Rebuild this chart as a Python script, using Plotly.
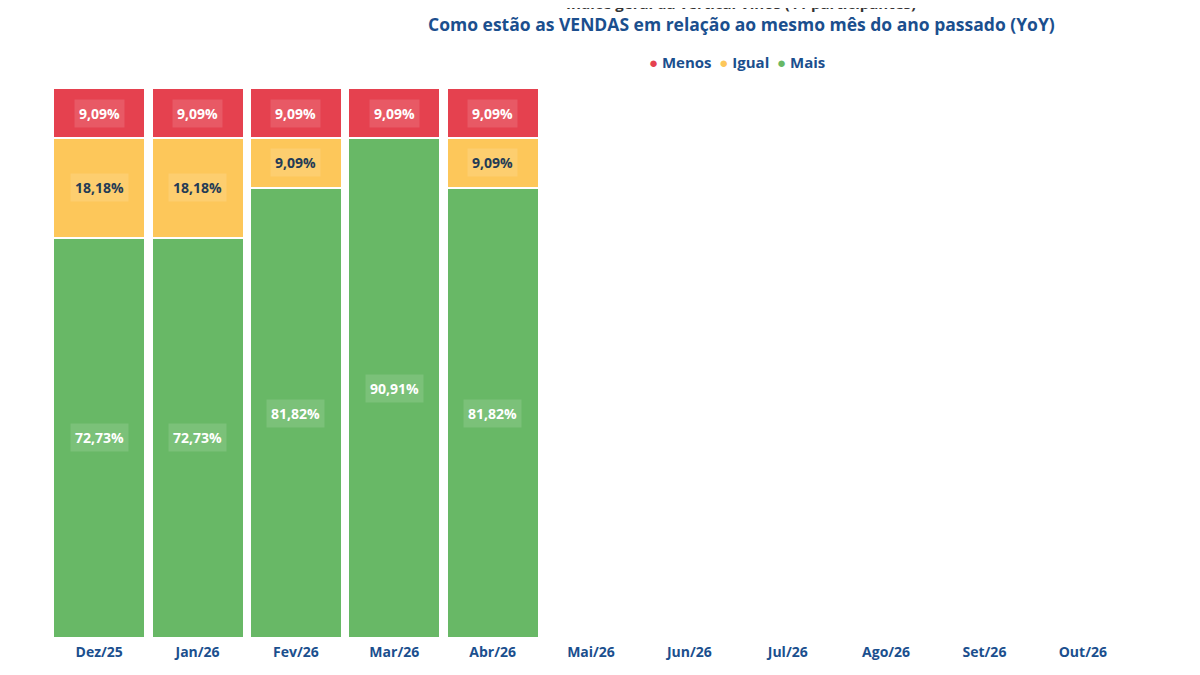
import plotly.graph_objects as go

meses = ["Dez/25", "Jan/26", "Fev/26", "Mar/26", "Abr/26", "Mai/26",
         "Jun/26", "Jul/26", "Ago/26", "Set/26", "Out/26"]
menos = [9.09, 9.09, 9.09, 9.09, 9.09]
igual = [18.18, 18.18, 9.09, 0, 9.09]
mais = [72.73, 72.73, 81.82, 90.91, 81.82]

vermelho = "#E5414F"
amarelo = "#FDC75A"
verde = "#68B866"
azul = "#1B4F8E"
fonte = "Open Sans"

fig = go.Figure()

# empilhado de baixo pra cima: Mais, Igual, Menos
series = [("Mais", mais, verde, "white"),
          ("Igual", igual, amarelo, "#243B55"),
          ("Menos", menos, vermelho, "white")]

base = [0] * len(mais)
for nome, vals, cor, cor_txt in series:
    fig.add_trace(go.Bar(x=meses[:len(vals)], y=vals, name=nome,
                         marker=dict(color=cor, line=dict(color="white", width=2)),
                         showlegend=False, hoverinfo="x+y+name"))
    for i, v in enumerate(vals):
        if v > 0:
            fig.add_annotation(x=meses[i], y=base[i] + v / 2,
                               text="<b>%s%%</b>" % f"{v:.2f}".replace(".", ","),
                               showarrow=False, font=dict(family=fonte, size=14, color=cor_txt),
                               bgcolor="rgba(255,255,255,0.13)", borderpad=4)
        base[i] += v

# legenda compacta com bolinhas
legenda = "  ".join("<span style='color:%s'>●</span> %s" % (c, n)
                    for n, c in [("Menos", vermelho), ("Igual", amarelo), ("Mais", verde)])
fig.add_annotation(xref="paper", yref="paper", x=0.5, y=1.0, yanchor="bottom", xanchor="center",
                   text="<b>%s</b>" % legenda, showarrow=False,
                   font=dict(family=fonte, size=15, color=azul), xshift=146, yshift=14)

fig.add_annotation(xref="paper", yref="paper", x=0.5, y=1.0, yanchor="middle", xanchor="center",
                   text="<b>Como estão as VENDAS em relação ao mesmo mês do ano passado (YoY)</b>",
                   showarrow=False, font=dict(family=fonte, size=17.5, color=azul),
                   xshift=150, yshift=64)
fig.add_annotation(xref="paper", yref="paper", x=0.5, y=1.0, yanchor="middle", xanchor="center",
                   text="<b>Índice geral da vertical Vinos (11 participantes)</b>",
                   showarrow=False, font=dict(family=fonte, size=15, color="#333333"),
                   xshift=150, yshift=85)

fig.update_layout(
    width=1200, height=675,
    barmode="stack", bargap=0.065,
    plot_bgcolor="white", paper_bgcolor="white",
    margin=dict(l=42, r=76, t=80, b=45),
    showlegend=False,
)
fig.update_xaxes(categoryorder="array", categoryarray=meses, range=[-0.5, len(meses) - 0.5],
                 showgrid=False, showline=False, ticks="", ticklabelstandoff=4,
                 tickfont=dict(family=fonte, size=14, color=azul, weight="bold"))
fig.update_yaxes(range=[0, 100], visible=False)

fig.write_html("out.html")
